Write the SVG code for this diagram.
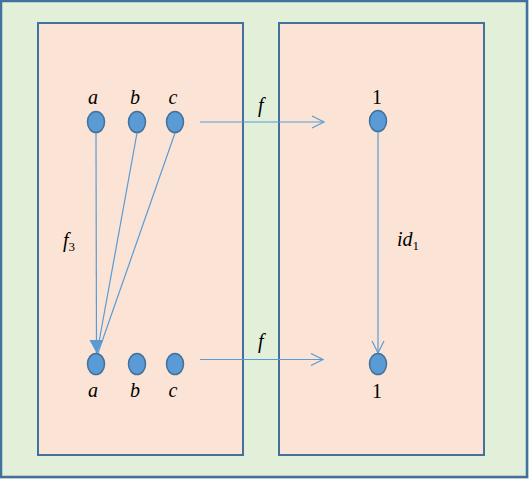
<svg xmlns="http://www.w3.org/2000/svg" width="529" height="479" viewBox="0 0 529 479">
<style>
.frame{fill:#fbe4d5;stroke:#41719c;stroke-width:2}
.node{fill:#5b9bd5;stroke:#41719c;stroke-width:1.5}
.edge{stroke:#5b9bd5;stroke-width:1.2;fill:none}
.lbl{font-family:"Liberation Serif",serif;font-size:20px;font-style:italic;fill:#000}
.num{font-family:"Liberation Serif",serif;font-size:20px;fill:#000}
</style>
<defs>
<marker id="open" markerWidth="16" markerHeight="16" refX="13" refY="7" orient="auto" markerUnits="userSpaceOnUse">
<path d="M1,1 L13,7 L1,13" fill="none" stroke="#5b9bd5" stroke-width="1.2"/>
</marker>
<marker id="filled" markerWidth="16" markerHeight="16" refX="13" refY="7" orient="auto" markerUnits="userSpaceOnUse">
<path d="M0,0 L13,7 L0,14 Z" fill="#5b9bd5"/>
</marker>
</defs>
<rect x="0" y="0" width="529" height="479" fill="#e2efd9"/>
<rect x="1" y="1" width="526" height="476" fill="none" stroke="#41719c" stroke-width="2.5"/>
<g id="domain">
<rect class="frame" x="38" y="23" width="205" height="432"/>
</g>
<g id="codomain">
<rect class="frame" x="279" y="23" width="205" height="432"/>
</g>
<g id="connectors">
<line class="edge" x1="200" y1="122" x2="324" y2="122" marker-end="url(#open)"/>
<line class="edge" x1="200" y1="359.5" x2="323" y2="359.5" marker-end="url(#open)"/>
<line class="edge" x1="378" y1="131" x2="378" y2="353" marker-end="url(#open)"/>
<line class="edge" x1="96" y1="133" x2="96.5" y2="353" marker-end="url(#filled)"/>
<line class="edge" x1="137" y1="133" x2="97" y2="353"/>
<line class="edge" x1="175" y1="133" x2="98" y2="353"/>
<text class="lbl" x="258" y="112">f</text>
<text class="lbl" x="258" y="348">f</text>
<text class="lbl" x="63" y="247">f<tspan font-style="normal" font-size="13" dy="4">3</tspan></text>
<text class="lbl" x="397" y="246">id<tspan font-style="normal" font-size="13" dy="4">1</tspan></text>
</g>
<g id="node-a-top"><ellipse class="node" cx="96" cy="122" rx="8.5" ry="10.5"/><text class="lbl" x="93" y="104" text-anchor="middle">a</text></g>
<g id="node-b-top"><ellipse class="node" cx="137" cy="122" rx="8.5" ry="10.5"/><text class="lbl" x="135" y="104" text-anchor="middle">b</text></g>
<g id="node-c-top"><ellipse class="node" cx="175" cy="122" rx="8.5" ry="10.5"/><text class="lbl" x="173" y="104" text-anchor="middle">c</text></g>
<g id="node-a-bot"><ellipse class="node" cx="96" cy="364" rx="8.5" ry="10.5"/><text class="lbl" x="93" y="397" text-anchor="middle">a</text></g>
<g id="node-b-bot"><ellipse class="node" cx="137" cy="364" rx="8.5" ry="10.5"/><text class="lbl" x="135" y="397" text-anchor="middle">b</text></g>
<g id="node-c-bot"><ellipse class="node" cx="175" cy="364" rx="8.5" ry="10.5"/><text class="lbl" x="173" y="397" text-anchor="middle">c</text></g>
<g id="node-1-top"><ellipse class="node" cx="378" cy="121" rx="8.5" ry="10.5"/><text class="num" x="377" y="104" text-anchor="middle">1</text></g>
<g id="node-1-bot"><ellipse class="node" cx="378" cy="364" rx="8.5" ry="10.5"/><text class="num" x="377" y="398" text-anchor="middle">1</text></g>
</svg>
